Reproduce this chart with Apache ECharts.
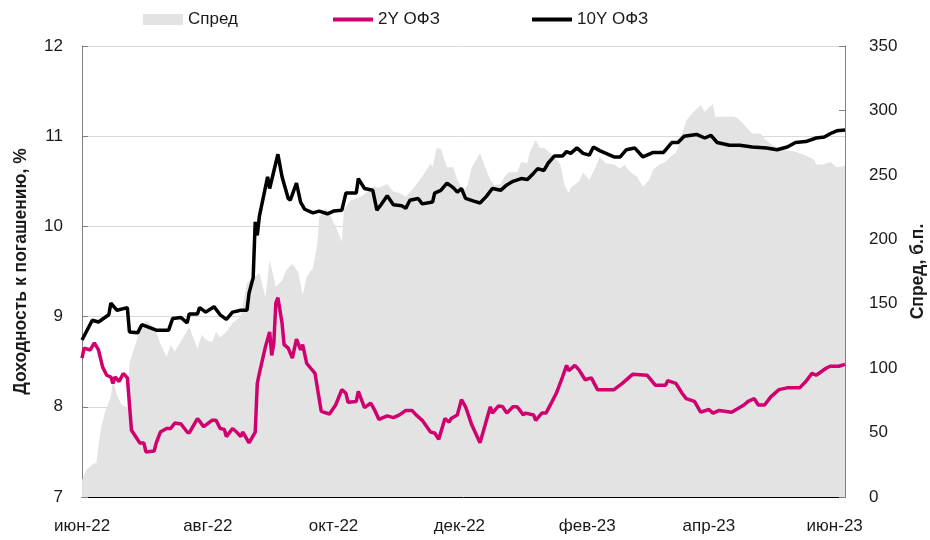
<!DOCTYPE html>
<html>
<head>
<meta charset="utf-8">
<script src="https://cdn.jsdelivr.net/npm/echarts@6/dist/echarts.min.js"></script>
<style>
  html, body { margin: 0; padding: 0; background: #fff; }
  #chart { width: 930px; height: 540px; }
</style>
</head>
<body>
<div id="chart"></div>
<script>
// подписи оси X (первое число месяца)
const labelDates = ['2022-06-01', '2022-08-01', '2022-10-01', '2022-12-01', '2023-02-01', '2023-04-01', '2023-06-01'];
const labelTexts = ['июн-22', 'авг-22', 'окт-22', 'дек-22', 'фев-23', 'апр-23', 'июн-23'];
const startDate = '2022-06-01';
const endDate = '2023-06-06';

// 10Y ОФЗ, %
const tenYDates = ['2022-06-01','2022-06-06','2022-06-09','2022-06-14','2022-06-15','2022-06-18','2022-06-23','2022-06-24','2022-06-28','2022-06-30',
  '2022-07-07','2022-07-13','2022-07-15','2022-07-19','2022-07-22','2022-07-23','2022-07-27','2022-07-28','2022-07-31','2022-08-04',
  '2022-08-07','2022-08-10','2022-08-13','2022-08-17','2022-08-20','2022-08-21','2022-08-23','2022-08-24','2022-08-25','2022-08-26',
  '2022-08-28','2022-08-30','2022-08-31','2022-09-04','2022-09-06','2022-09-09','2022-09-10','2022-09-13','2022-09-15','2022-09-17',
  '2022-09-21','2022-09-24','2022-09-28','2022-10-01','2022-10-05','2022-10-07','2022-10-12','2022-10-13','2022-10-16','2022-10-20',
  '2022-10-22','2022-10-24','2022-10-27','2022-10-30','2022-11-03','2022-11-05','2022-11-07','2022-11-11','2022-11-13','2022-11-18',
  '2022-11-19','2022-11-22','2022-11-25','2022-11-28','2022-11-30','2022-12-02','2022-12-04','2022-12-08','2022-12-11','2022-12-14',
  '2022-12-17','2022-12-21','2022-12-24','2022-12-27','2022-12-31','2023-01-03','2023-01-06','2023-01-08','2023-01-11','2023-01-13',
  '2023-01-16','2023-01-20','2023-01-22','2023-01-24','2023-01-27','2023-01-30','2023-02-02','2023-02-04','2023-02-07','2023-02-14',
  '2023-02-17','2023-02-20','2023-02-24','2023-02-28','2023-03-05','2023-03-10','2023-03-14','2023-03-17','2023-03-20','2023-03-26',
  '2023-03-30','2023-04-02','2023-04-05','2023-04-11','2023-04-16','2023-04-22','2023-04-29','2023-05-04','2023-05-09','2023-05-13',
  '2023-05-18','2023-05-23','2023-05-27','2023-05-30','2023-06-02','2023-06-06'];
const tenYValues = [8.74, 8.96, 8.94, 9.02, 9.15, 9.07, 9.10, 8.83, 8.82, 8.91,
  8.85, 8.85, 8.98, 8.99, 8.93, 9.03, 9.03, 9.10, 9.05, 9.11,
  9.02, 8.97, 9.05, 9.07, 9.07, 9.26, 9.43, 10.05, 9.90, 10.11,
  10.33, 10.55, 10.42, 10.80, 10.55, 10.31, 10.29, 10.48, 10.27, 10.19,
  10.15, 10.17, 10.14, 10.17, 10.18, 10.37, 10.37, 10.53, 10.42, 10.40,
  10.18, 10.24, 10.34, 10.24, 10.23, 10.20, 10.29, 10.31, 10.25, 10.27,
  10.37, 10.40, 10.48, 10.43, 10.38, 10.42, 10.31, 10.28, 10.26, 10.33,
  10.42, 10.40, 10.46, 10.50, 10.53, 10.52, 10.59, 10.64, 10.62, 10.70,
  10.78, 10.78, 10.83, 10.81, 10.87, 10.81, 10.79, 10.88, 10.84, 10.77,
  10.77, 10.85, 10.87, 10.77, 10.82, 10.82, 10.93, 10.93, 11.00, 11.02,
  10.98, 11.01, 10.93, 10.90, 10.90, 10.88, 10.87, 10.85, 10.88, 10.93,
  10.94, 10.98, 10.99, 11.03, 11.06, 11.07];

// 2Y ОФЗ, %
const twoYDates = ['2022-06-01','2022-06-02','2022-06-05','2022-06-07','2022-06-09','2022-06-11','2022-06-13','2022-06-15','2022-06-16','2022-06-17',
  '2022-06-19','2022-06-21','2022-06-23','2022-06-25','2022-06-27','2022-06-29','2022-07-01','2022-07-02','2022-07-06','2022-07-07',
  '2022-07-09','2022-07-12','2022-07-14','2022-07-16','2022-07-19','2022-07-22','2022-07-23','2022-07-27','2022-07-30','2022-08-03',
  '2022-08-05','2022-08-07','2022-08-09','2022-08-10','2022-08-13','2022-08-15','2022-08-17','2022-08-18','2022-08-21','2022-08-24',
  '2022-08-25','2022-08-26','2022-08-29','2022-08-31','2022-09-01','2022-09-02','2022-09-03','2022-09-04','2022-09-06','2022-09-07',
  '2022-09-09','2022-09-11','2022-09-13','2022-09-15','2022-09-16','2022-09-18','2022-09-22','2022-09-25','2022-09-29','2022-10-02',
  '2022-10-05','2022-10-07','2022-10-08','2022-10-12','2022-10-13','2022-10-16','2022-10-19','2022-10-21','2022-10-23','2022-10-27',
  '2022-10-30','2022-11-02','2022-11-05','2022-11-08','2022-11-10','2022-11-13','2022-11-17','2022-11-19','2022-11-21','2022-11-24',
  '2022-11-26','2022-11-27','2022-11-30','2022-12-02','2022-12-04','2022-12-07','2022-12-11','2022-12-13','2022-12-16','2022-12-17',
  '2022-12-20','2022-12-22','2022-12-24','2022-12-27','2022-12-29','2023-01-01','2023-01-02','2023-01-06','2023-01-07','2023-01-10',
  '2023-01-12','2023-01-15','2023-01-17','2023-01-20','2023-01-22','2023-01-23','2023-01-26','2023-01-28','2023-01-31','2023-02-03',
  '2023-02-06','2023-02-14','2023-02-18','2023-02-23','2023-03-02','2023-03-06','2023-03-11','2023-03-12','2023-03-16','2023-03-19',
  '2023-03-21','2023-03-25','2023-03-28','2023-04-01','2023-04-03','2023-04-06','2023-04-12','2023-04-18','2023-04-20','2023-04-23',
  '2023-04-25','2023-04-28','2023-05-01','2023-05-05','2023-05-09','2023-05-15','2023-05-18','2023-05-21','2023-05-23','2023-05-28',
  '2023-05-30','2023-06-03','2023-06-06'];
const twoYValues = [8.54, 8.65, 8.63, 8.71, 8.63, 8.44, 8.35, 8.33, 8.26, 8.33,
  8.28, 8.37, 8.32, 7.74, 7.67, 7.60, 7.60, 7.50, 7.51, 7.60,
  7.72, 7.76, 7.76, 7.82, 7.81, 7.72, 7.71, 7.87, 7.78, 7.85,
  7.85, 7.76, 7.75, 7.67, 7.76, 7.72, 7.67, 7.72, 7.60, 7.72,
  8.26, 8.37, 8.67, 8.83, 8.57, 8.70, 9.15, 9.21, 8.93, 8.69,
  8.65, 8.54, 8.75, 8.63, 8.69, 8.48, 8.37, 7.95, 7.92, 8.02,
  8.19, 8.15, 8.05, 8.06, 8.17, 7.99, 8.04, 7.96, 7.86, 7.90,
  7.88, 7.91, 7.96, 7.96, 7.91, 7.85, 7.72, 7.71, 7.64, 7.87,
  7.83, 7.87, 7.91, 8.08, 8.00, 7.80, 7.60, 7.76, 8.00, 7.93,
  8.01, 8.00, 7.93, 8.00, 8.00, 7.91, 7.93, 7.91, 7.85, 7.93,
  7.93, 8.06, 8.15, 8.33, 8.46, 8.40, 8.46, 8.41, 8.30, 8.32,
  8.19, 8.19, 8.26, 8.36, 8.35, 8.24, 8.24, 8.29, 8.26, 8.15,
  8.09, 8.06, 7.94, 7.97, 7.93, 7.96, 7.94, 8.02, 8.06, 8.09,
  8.02, 8.02, 8.11, 8.19, 8.21, 8.21, 8.28, 8.37, 8.35, 8.43,
  8.45, 8.45, 8.47];

// Спред, б.п.
const spreadDates = ['2022-06-01','2022-06-03','2022-06-06','2022-06-08','2022-06-10','2022-06-12','2022-06-15','2022-06-16','2022-06-18','2022-06-20',
  '2022-06-23','2022-06-24','2022-06-28','2022-07-02','2022-07-06','2022-07-09','2022-07-12','2022-07-14','2022-07-16','2022-07-19',
  '2022-07-23','2022-07-27','2022-07-29','2022-07-31','2022-08-03','2022-08-05','2022-08-07','2022-08-10','2022-08-13','2022-08-17',
  '2022-08-20','2022-08-24','2022-08-26','2022-08-29','2022-08-31','2022-09-03','2022-09-06','2022-09-08','2022-09-11','2022-09-14',
  '2022-09-16','2022-09-18','2022-09-21','2022-09-23','2022-09-24','2022-09-27','2022-09-29','2022-10-02','2022-10-05','2022-10-06',
  '2022-10-09','2022-10-14','2022-10-16','2022-10-20','2022-10-23','2022-10-27','2022-10-30','2022-11-02','2022-11-05','2022-11-09',
  '2022-11-14','2022-11-17','2022-11-18','2022-11-20','2022-11-22','2022-11-25','2022-11-28','2022-11-30','2022-12-03','2022-12-05',
  '2022-12-07','2022-12-11','2022-12-13','2022-12-16','2022-12-18','2022-12-21','2022-12-23','2022-12-25','2022-12-29','2022-12-31',
  '2023-01-03','2023-01-04','2023-01-07','2023-01-09','2023-01-11','2023-01-14','2023-01-16','2023-01-19','2023-01-21','2023-01-23',
  '2023-01-24','2023-01-28','2023-01-30','2023-02-02','2023-02-05','2023-02-07','2023-02-10','2023-02-14','2023-02-17','2023-02-19',
  '2023-02-22','2023-02-25','2023-02-28','2023-03-03','2023-03-05','2023-03-08','2023-03-11','2023-03-14','2023-03-16','2023-03-19',
  '2023-03-21','2023-03-24','2023-03-28','2023-03-30','2023-04-01','2023-04-03','2023-04-04','2023-04-08','2023-04-13','2023-04-15',
  '2023-04-18','2023-04-22','2023-04-26','2023-04-28','2023-05-01','2023-05-04','2023-05-09','2023-05-13','2023-05-18','2023-05-22',
  '2023-05-23','2023-05-26','2023-05-30','2023-06-02','2023-06-06'];
const spreadValues = [13, 21, 25, 27, 52, 65, 78, 91, 79, 72,
  69, 104, 124, 137, 132, 119, 109, 118, 113, 121,
  132, 115, 126, 122, 120, 128, 124, 128, 135, 140,
  166, 171, 174, 155, 184, 163, 168, 176, 181, 174,
  157, 171, 178, 195, 217, 224, 220, 210, 198, 223,
  230, 233, 235, 241, 240, 243, 237, 236, 233, 240,
  251, 259, 256, 271, 270, 256, 256, 246, 238, 242,
  256, 267, 258, 246, 242, 243, 249, 252, 252, 260,
  259, 267, 277, 271, 271, 267, 264, 258, 242, 236,
  240, 245, 252, 246, 256, 264, 259, 258, 255, 258,
  252, 249, 241, 246, 254, 258, 260, 265, 267, 282,
  292, 298, 304, 299, 302, 305, 295, 295, 295, 294,
  289, 282, 282, 278, 274, 271, 269, 268, 265, 262,
  258, 258, 260, 256, 257];

// все календарные дни для оси X
const days = [];
for (let t = Date.parse(startDate); t <= Date.parse(endDate); t += 86400000) {
  days.push(new Date(t).toISOString().slice(0, 10));
}

const pairs = (dates, values) => dates.map((d, i) => [d, values[i]]);

const FONT = 'Arial, "Liberation Sans", sans-serif';
const FS = 17;
const TEXT = '#1a1a1a';
const SPREAD_COLOR = '#e3e3e3';
const TWO_Y_COLOR = '#d0006f';

const chart = echarts.init(document.getElementById('chart'));

const legendBase = {
  top: 6,
  itemWidth: 40,
  icon: 'rect',
  textStyle: { fontFamily: FONT, fontSize: FS, color: TEXT },
  selectedMode: false
};

const option = {
  animation: false,
  backgroundColor: '#fff',
  textStyle: { fontFamily: FONT },
  legend: [
    { ...legendBase, left: 138, itemHeight: 11, data: ['Спред'] },
    { ...legendBase, left: 328, itemHeight: 4, data: ['2Y ОФЗ'] },
    { ...legendBase, left: 527, itemHeight: 4, data: ['10Y ОФЗ'] }
  ],
  grid: { left: 82, right: 85, top: 46, bottom: 43, outerBoundsMode: 'none' },
  xAxis: {
    type: 'category',
    data: days,
    boundaryGap: false,
    axisLine: { lineStyle: { color: '#000', width: 1 } },
    axisTick: { show: false },
    axisLabel: {
      interval: (idx, val) => labelDates.includes(val),
      formatter: val => labelTexts[labelDates.indexOf(val)],
      margin: 21,
      fontSize: FS,
      color: TEXT,
      fontFamily: FONT
    },
    splitLine: { show: false }
  },
  yAxis: [
    {
      type: 'value',
      min: 7, max: 12, interval: 1,
      name: 'Доходность к погашению, %',
      nameLocation: 'middle',
      nameGap: 52,
      nameTextStyle: { fontFamily: FONT, fontSize: 17.5, fontWeight: 'bold', color: TEXT },
      axisLine: { show: true, lineStyle: { color: '#808080' } },
      axisTick: { show: true, inside: true, length: 6, lineStyle: { color: '#808080' } },
      axisLabel: { margin: 19, fontSize: FS, color: TEXT, fontFamily: FONT },
      splitLine: { show: true, lineStyle: { color: '#d9d9d9', width: 1 } }
    },
    {
      type: 'value',
      min: 0, max: 350, interval: 50,
      name: 'Спред, б.п.',
      nameLocation: 'middle',
      nameGap: 64,
      nameTextStyle: { fontFamily: FONT, fontSize: 17.5, fontWeight: 'bold', color: TEXT },
      axisLine: { show: true, lineStyle: { color: '#808080' } },
      axisTick: { show: true, inside: true, length: 6, lineStyle: { color: '#808080' } },
      axisLabel: { margin: 24, fontSize: FS, color: TEXT, fontFamily: FONT },
      splitLine: { show: false }
    }
  ],
  series: [
    {
      name: 'Спред',
      type: 'line',
      yAxisIndex: 1,
      data: pairs(spreadDates, spreadValues),
      symbol: 'none',
      lineStyle: { width: 0 },
      itemStyle: { color: SPREAD_COLOR },
      areaStyle: { color: SPREAD_COLOR, opacity: 1 },
      z: 1
    },
    {
      name: '2Y ОФЗ',
      type: 'line',
      yAxisIndex: 0,
      data: pairs(twoYDates, twoYValues),
      symbol: 'none',
      lineStyle: { width: 3.5, color: TWO_Y_COLOR },
      itemStyle: { color: TWO_Y_COLOR },
      z: 3
    },
    {
      name: '10Y ОФЗ',
      type: 'line',
      yAxisIndex: 0,
      data: pairs(tenYDates, tenYValues),
      symbol: 'none',
      lineStyle: { width: 3.5, color: '#000' },
      itemStyle: { color: '#000' },
      z: 4
    }
  ]
};

chart.setOption(option);
</script>
</body>
</html>
